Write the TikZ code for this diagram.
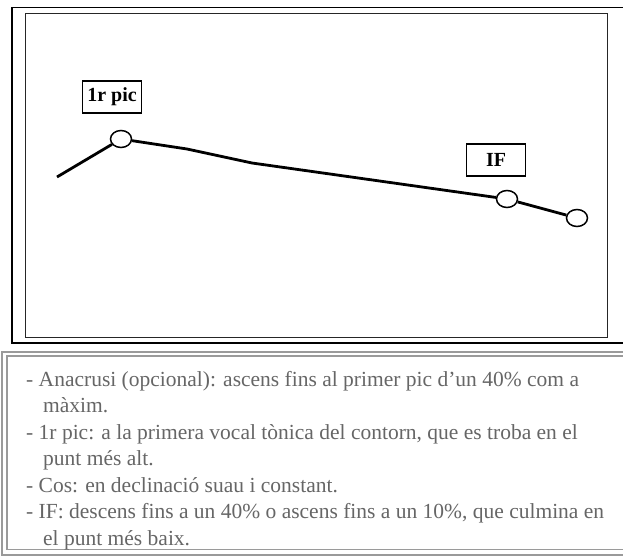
\documentclass[tikz,border=0pt]{standalone}
\usepackage{fontspec}
\setmainfont{Liberation Serif}
\usetikzlibrary{shapes.geometric}
\definecolor{txtgray}{HTML}{666666}
\definecolor{framegray}{HTML}{9A9A9A}
\begin{document}
\begin{tikzpicture}[x=1pt,y=-1pt,
  dot/.style={ellipse, draw, fill=white, line width=1.5pt, minimum width=21pt, minimum height=17pt, inner sep=0pt},
  lbl/.style={draw, line width=1.3pt, fill=white, minimum width=59pt, minimum height=32pt, inner sep=0pt, font=\bfseries\fontsize{20}{20}\selectfont},
  contour/.style={line width=2.8pt},
  noteline/.style={anchor=base west, text=txtgray, inner sep=0pt, font=\fontsize{21.5}{23.4}\selectfont}]
\useasboundingbox (0,0) rectangle (623,556);
\clip (0,0) rectangle (623,556);
\fill[white] (0,0) rectangle (623,556);
% frames of the upper panel
\draw[line width=1.5pt] (12,7.5) rectangle (640,343);
\draw[line width=1pt, draw=black!85] (25,13.5) rectangle (607.5,337);
% frames of the lower panel
\draw[line width=2pt, draw=framegray] (2,351.5) rectangle (640,554.5);
\draw[line width=1.6pt, draw=framegray] (7,356) rectangle (640,549.5);
% contour
\coordinate (start) at (57,177);
\node[dot] (p1) at (121,139) {};
\coordinate (k1) at (187,149);
\coordinate (k2) at (252,163);
\node[dot] (p2) at (507,199) {};
\node[dot] (p3) at (577,218) {};
\draw[contour] (start) -- (p1);
\draw[contour] (p1) -- (k1) -- (k2) -- (p2);
\draw[contour] (p2) -- (p3);
% labels
\node[lbl] (l1) at (112,97) {1r pic};
\node[lbl] (l2) at (496,160) {IF};
% notes
\node[noteline] (n1) at (26,386) {- Anacrusi (opcional): ascens fins al primer pic d’un 40\% com a};
\node[noteline] (n2) at (43,412.5) {màxim.};
\node[noteline] (n3) at (26,439) {- 1r pic: a la primera vocal tònica del contorn, que es troba en el};
\node[noteline] (n4) at (43,465.5) {punt més alt.};
\node[noteline] (n5) at (26,492) {- Cos: en declinació suau i constant.};
\node[noteline] (n6) at (26,518.5) {- IF: descens fins a un 40\% o ascens fins a un 10\%, que culmina en};
\node[noteline] (n7) at (43,545) {el punt més baix.};
\end{tikzpicture}
\end{document}
